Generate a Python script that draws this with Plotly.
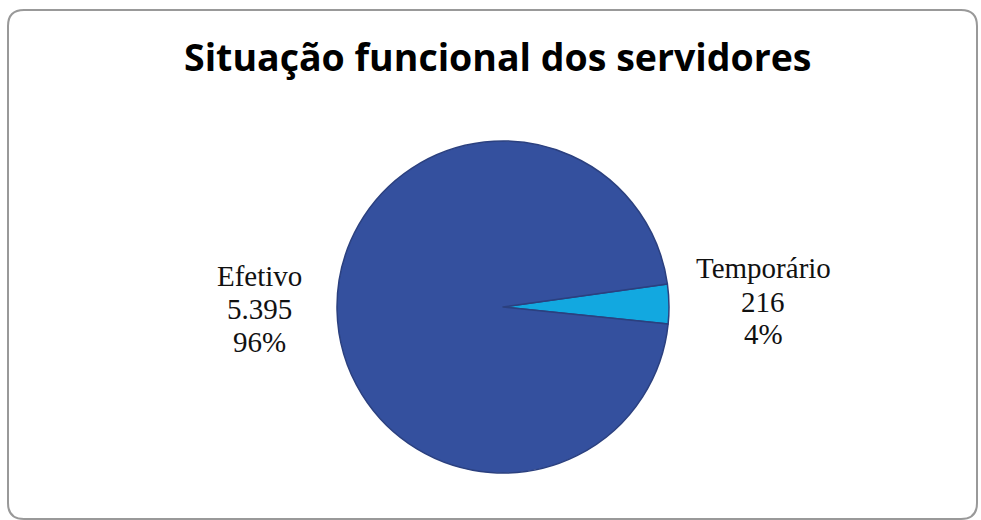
import plotly.graph_objects as go

categories = ["Temporário", "Efetivo"]
values = [216, 5395]
colors = ["#12A8E0", "#34509E"]
title_text = "Situação funcional dos servidores"

W, H = 981, 520
total = sum(values)

def fmt_int(v):
    return f"{v:,}".replace(",", ".")

fig = go.Figure()
fig.add_trace(go.Pie(
    labels=categories,
    values=values,
    sort=False,
    direction="clockwise",
    rotation=82,
    marker=dict(colors=colors, line=dict(color="#2B407F", width=1.5)),
    textinfo="none",
    hoverinfo="label+value+percent",
    showlegend=False,
    domain=dict(x=[334 / W, 672 / W], y=[(H - 473) / H, (H - 141) / H]),
))

# label positions (pixel centres) for each category
label_pos = {"Efetivo": (259, [276, 309, 342]), "Temporário": (763, [268, 302, 334])}
annotations = []
for cat, v in zip(categories, values):
    cx, ys = label_pos[cat]
    lines = [cat, fmt_int(v), f"{round(100 * v / total)}%"]
    for txt, yy in zip(lines, ys):
        annotations.append(dict(
            text=txt, x=cx / W, y=1 - yy / H, xref="paper", yref="paper",
            xanchor="center", yanchor="middle", showarrow=False,
            font=dict(family="Liberation Serif, Times New Roman, serif", size=29, color="#111111"),
        ))

annotations.append(dict(
    text=f"<b>{title_text}</b>", x=498 / W, y=1 - 56 / H, xref="paper", yref="paper",
    xanchor="center", yanchor="middle", showarrow=False,
    font=dict(family="Open Sans, Lato, sans-serif", size=37.5, color="#000000"),
))

# rounded border
x0, x1, y0, y1 = 8 / W, 977 / W, 1 - 519 / H, 1 - 10 / H
rx, ry = 16 / W, 16 / H
path = (f"M {x0 + rx},{y1} L {x1 - rx},{y1} Q {x1},{y1} {x1},{y1 - ry} "
        f"L {x1},{y0 + ry} Q {x1},{y0} {x1 - rx},{y0} L {x0 + rx},{y0} "
        f"Q {x0},{y0} {x0},{y0 + ry} L {x0},{y1 - ry} Q {x0},{y1} {x0 + rx},{y1} Z")

fig.update_layout(
    width=W, height=H,
    margin=dict(l=0, r=0, t=0, b=0),
    paper_bgcolor="white", plot_bgcolor="white",
    annotations=annotations,
    shapes=[dict(type="path", path=path, xref="paper", yref="paper",
                 line=dict(color="#999999", width=2), layer="below")],
)

fig.write_html("out.html", config={"displayModeBar": False},
               post_script="document.body.style.margin='0';document.body.style.overflow='hidden';")
